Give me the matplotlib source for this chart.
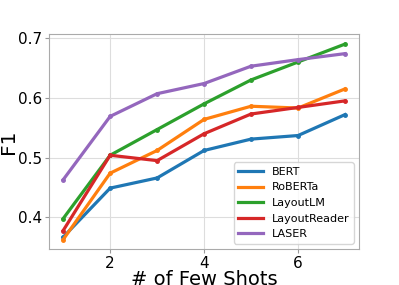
import matplotlib
matplotlib.use("Agg")
import matplotlib.pyplot as plt

shots = [1, 2, 3, 4, 5, 6, 7]
bert = [0.367, 0.449, 0.466, 0.512, 0.531, 0.537, 0.572]
roberta = [0.363, 0.474, 0.512, 0.564, 0.586, 0.583, 0.615]
layoutlm = [0.398, 0.504, 0.547, 0.590, 0.630, 0.660, 0.690]
layoutreader = [0.378, 0.504, 0.495, 0.540, 0.573, 0.584, 0.595]
laser = [0.463, 0.569, 0.607, 0.624, 0.653, 0.664, 0.674]

series = [("BERT", bert, "tab:blue"), ("RoBERTa", roberta, "tab:orange"),
          ("LayoutLM", layoutlm, "tab:green"), ("LayoutReader", layoutreader, "tab:red"),
          ("LASER", laser, "tab:purple")]

fig = plt.figure(figsize=(3.99, 2.85), dpi=100)
ax = fig.add_axes([0.123, 0.126, 0.777, 0.755])
for name, vals, c in series:
    ax.plot(shots, vals, color=c, lw=2.3, label=name)
    ax.plot(shots, vals, "o", color=c, ms=2.5)

ax.set_xticks([2, 4, 6])
ax.set_yticks([0.4, 0.5, 0.6, 0.7])
ax.set_ylim(0.347, 0.707)
ax.tick_params(labelsize=11, color="#999999", length=3, pad=2)
ax.grid(True, color="#dddddd", lw=0.8)
for s in ax.spines.values():
    s.set_color("#aaaaaa")
ax.set_xlabel("# of Few Shots", fontsize=14, labelpad=-1)
ax.set_ylabel("F1", fontsize=14.5, labelpad=0)
ax.legend(loc="lower right", fontsize=8, handlelength=2.2)
fig.savefig("out.png", dpi=100)
